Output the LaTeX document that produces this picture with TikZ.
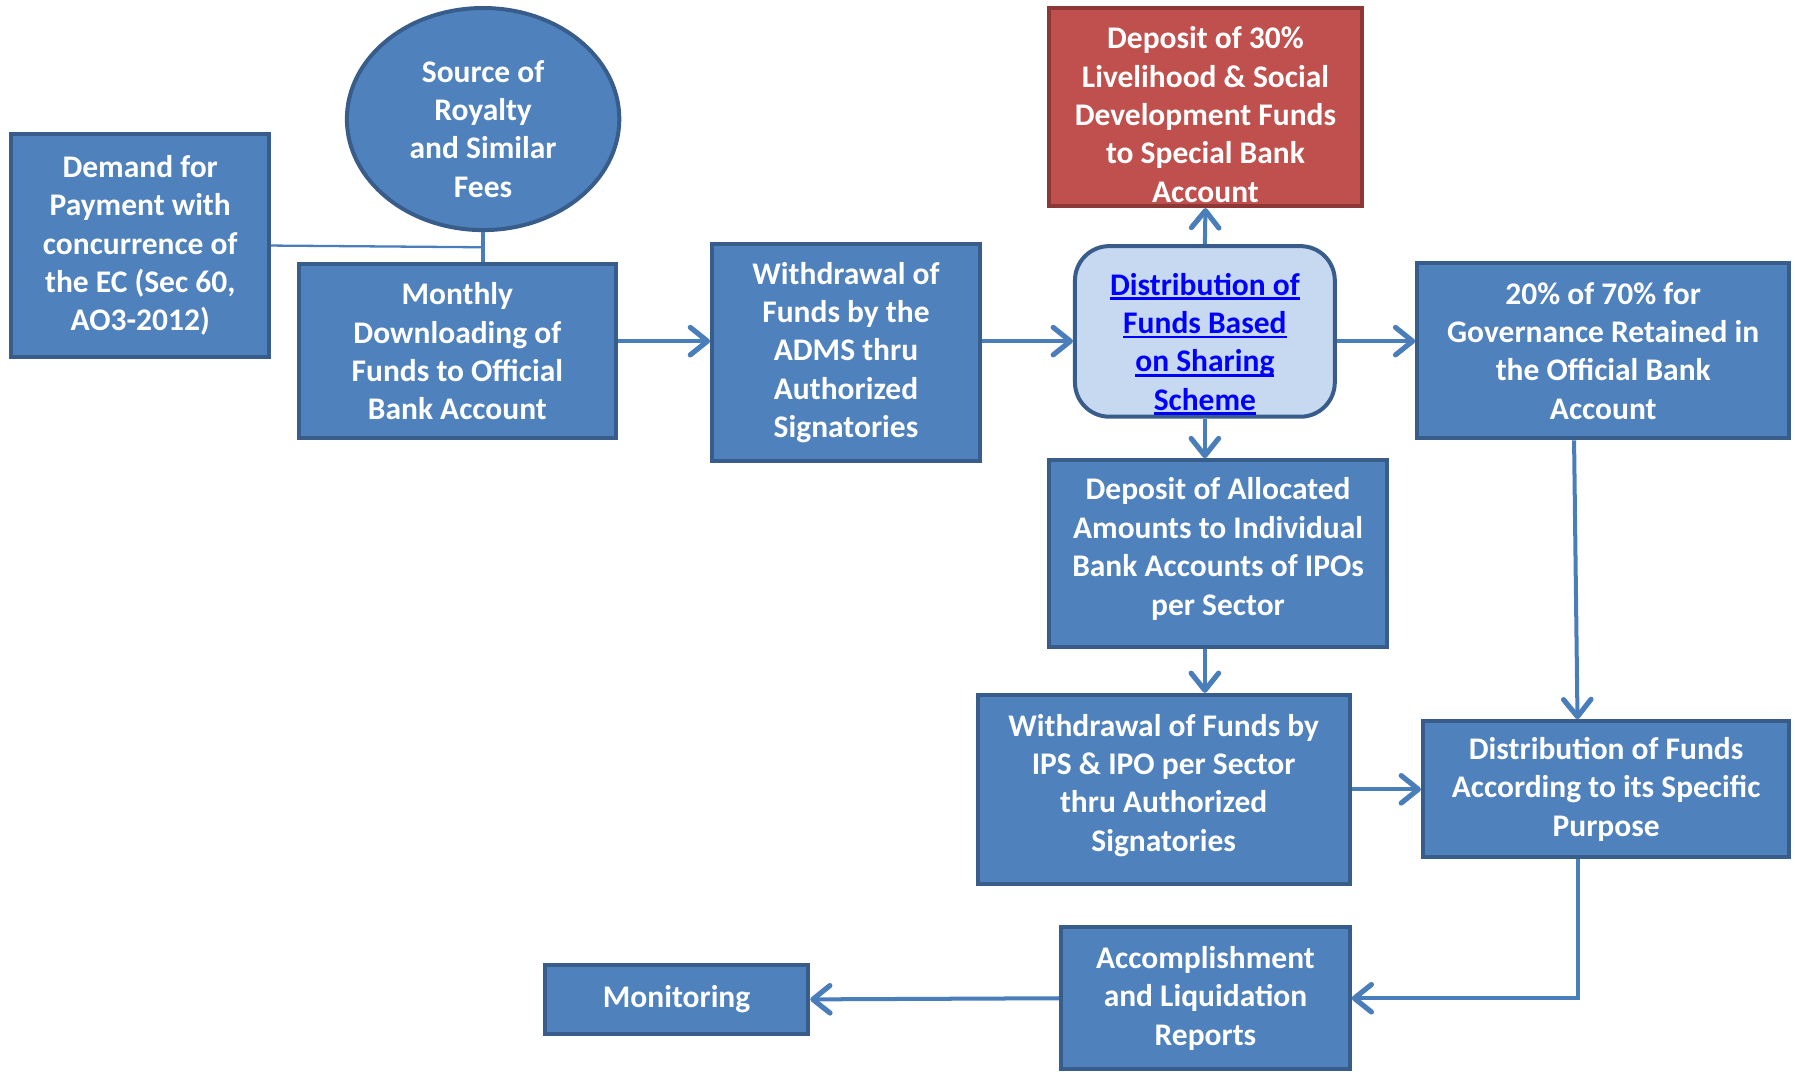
\documentclass[tikz,border=0pt]{standalone}
\usepackage{fontspec}
\setmainfont{Carlito}
\usetikzlibrary{arrows.meta,shapes.geometric,calc}
\definecolor{bfill}{HTML}{4F81BD}
\definecolor{bborder}{HTML}{385D8A}
\definecolor{rfill}{HTML}{C0504D}
\definecolor{rborder}{HTML}{8C3836}
\definecolor{lfill}{HTML}{C6D9F1}
\definecolor{lcol}{HTML}{4A7EBB}
\newcommand\myul[1]{\setbox0\hbox{#1}\rlap{\rule[-4pt]{\wd0}{2.2pt}}\box0}
\tikzset{
  txt/.style={text=white, font=\bfseries\fontsize{27.5}{33.5}\selectfont, align=center, inner sep=0pt},
  box/.style={draw=bborder, fill=bfill, line width=3.5pt, txt, rectangle},
  redbox/.style={draw=rborder, fill=rfill, line width=3.5pt, rectangle, inner sep=0pt},
  lbox/.style={draw=bborder, fill=lfill, line width=3.5pt, rectangle, rounded corners=30pt, inner sep=0pt},
  conn/.style={draw=lcol, line width=3.5pt, -{Straight Barb[length=15pt,width=24pt,line width=4.5pt,round]}},
  plain/.style={draw=lcol, line width=3pt},
}
\begin{document}
\begin{tikzpicture}[x=1pt,y=-1pt]
\useasboundingbox (0,0) rectangle (1568,936);
% nodes
\node[box, minimum width=225pt, minimum height=195pt] (dem) at (122.5,214.5)
  {Demand for\\Payment with\\concurrence of\\the EC (Sec 60,\\AO3-2012)};
\node[draw=bborder, fill=bfill, line width=3.5pt, ellipse, minimum width=238pt, minimum height=194pt, inner sep=0pt,
  label={[txt,yshift=-8.5pt]center:{Source of\\Royalty\\and Similar\\Fees}}] (src) at (422,104) {};
\node[box, minimum width=277pt, minimum height=152pt] (mon) at (399.5,307)
  {Monthly\\Downloading of\\Funds to Official\\Bank Account};
\node[box, minimum width=234pt, minimum height=190pt] (adms) at (739,308)
  {Withdrawal of\\Funds by the\\ADMS thru\\Authorized\\Signatories};
\node[redbox, minimum width=274pt, minimum height=173pt,
  label={[txt,yshift=-6.5pt]center:{Deposit of 30\%\\Livelihood \& Social\\Development Funds\\to Special Bank\\Account}}] (red) at (1053,93.5) {};
\node[lbox, minimum width=227pt, minimum height=149pt,
  label={[txt,text=blue,yshift=-11pt]center:{\myul{Distribution of}\\\myul{Funds Based}\\\myul{on Sharing}\\\myul{Scheme}}}] (dist) at (1052.5,289.5) {};
\node[box, minimum width=325pt, minimum height=153pt] (gov) at (1400.5,306.5)
  {20\% of 70\% for\\Governance Retained in\\the Official Bank\\Account};
\node[box, minimum width=296pt, minimum height=163pt,
  label={[txt,yshift=4pt]center:{Deposit of Allocated\\Amounts to Individual\\Bank Accounts of IPOs\\per Sector}}] (dep) at (1064,483.5) {};
\node[box, minimum width=325pt, minimum height=165pt,
  label={[txt,yshift=3.5pt]center:{Withdrawal of Funds by\\IPS \& IPO per Sector\\thru Authorized\\Signatories}}] (ips) at (1016.5,689.5) {};
\node[box, minimum width=320pt, minimum height=119pt] (dacc) at (1403,689.5)
  {Distribution of Funds\\According to its Specific\\Purpose};
\node[box, minimum width=252pt, minimum height=124pt] (acc) at (1053,872)
  {Accomplishment\\and Liquidation\\Reports};
\node[box, minimum width=230pt, minimum height=60pt] (monit) at (591,873)
  {Monitoring};
% connectors
\coordinate (rowy) at (0,298);
\coordinate (j) at (422,216);
\draw[draw=lcol, line width=2pt] (dem.east) -- (j);
\draw[plain] (src.south) -- (mon.north -| src.south);
\draw[conn] (mon.east |- rowy) -- (adms.west |- rowy);
\draw[conn] (adms.east |- rowy) -- (dist.west |- rowy);
\draw[conn] (dist.east |- rowy) -- (gov.west |- rowy);
\draw[conn] (dist.north) -- (red.south);
\draw[conn] (dist.south) -- (dist.south |- dep.north);
\draw[conn] (dep.south -| dist.south) -- (ips.north -| dist.south);
\draw[conn] ($(gov.south)+(-25.5,0)$) -- ($(dacc.north)+(-25,0)$);
\draw[conn] (ips.east) -- (dacc.west);
\draw[conn] ($(dacc.south)+(-25,0)$) |- (acc.east);
\draw[conn] (acc.west) -- (monit.east);
\end{tikzpicture}
\end{document}
